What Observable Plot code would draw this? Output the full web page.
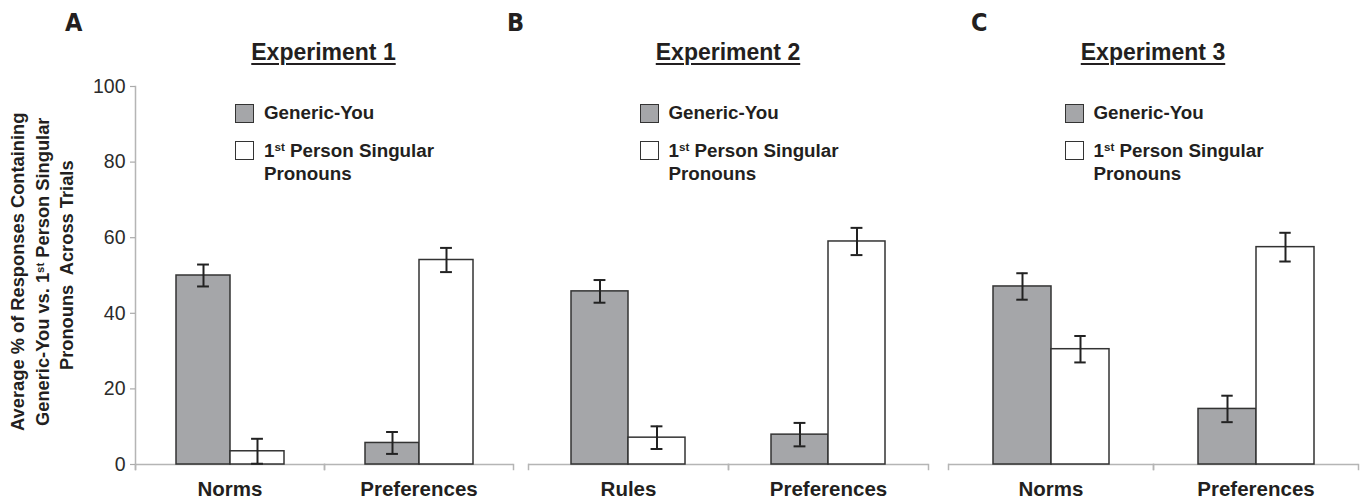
<!DOCTYPE html>
<html>
<head>
<meta charset="utf-8">
<script src="https://cdn.jsdelivr.net/npm/d3@7"></script>
<script src="https://cdn.jsdelivr.net/npm/@observablehq/plot@0.6"></script>
<style>
  body { margin: 0; background: #fff; }
  #chart { position: relative; width: 1364px; height: 500px; overflow: hidden;
           font-family: "Liberation Sans", Arial, Helvetica, sans-serif; color: #231f20; background: #fff; }
  .abs { position: absolute; white-space: nowrap; }
  .letter { font-family: "Liberation Sans Narrow", "DejaVu Sans Condensed", "Liberation Sans", sans-serif;
            font-weight: bold; font-size: 25px; line-height: 25px; }
  .title { font-weight: bold; font-size: 23px; line-height: 23px; text-align: center; width: 300px;
           text-decoration: underline; text-decoration-thickness: 2px; text-underline-offset: 3px; }
  .legtext { font-weight: bold; font-size: 18.8px; line-height: 23.3px; }
  .swatch { width: 17px; height: 17px; border: 1.5px solid #333; box-sizing: content-box; }
  sup { font-size: 0.62em; line-height: 0; vertical-align: 0.5em; }
  .ylab { font-weight: bold; font-size: 18.3px; line-height: 24.5px; text-align: center;
          width: 420px; height: 73.5px; transform: rotate(-90deg); transform-origin: 50% 50%; }
</style>
</head>
<body>
<div id="chart"></div>
<script>
// ---------- data ----------
const experiments = ["Experiment 1", "Experiment 2", "Experiment 3"];
const panelLetters = ["A", "B", "C"];
const categories = [["Norms", "Preferences"], ["Rules", "Preferences"], ["Norms", "Preferences"]];
const series = ["Generic-You", "1st Person Singular Pronouns"];
const genericYou = [[50.0, 5.7], [45.8, 7.9], [47.1, 14.7]];
const genericErr = [[2.9, 2.9], [3.0, 3.1], [3.5, 3.5]];
const firstPerson = [[3.5, 54.1], [7.1, 59.0], [30.5, 57.5]];
const firstErr = [[3.3, 3.2], [3.0, 3.6], [3.5, 3.8]];
const yTicks = [0, 20, 40, 60, 80, 100];
const legendLines = [["Generic-You"], ["1<sup>st</sup> Person Singular", "Pronouns"]];
const yLabelLines = ["Average % of Responses Containing", "Generic-You vs. 1<sup>st</sup> Person Singular", "Pronouns&nbsp; Across Trials"];

// ---------- layout ----------
const fillColors = ["#a5a6a9", "#ffffff"];
const layout = [
  {left: 0, width: 520, ml: 134, mr: 7, letterX: 65, yAxis: true},
  {left: 520, width: 415, ml: 8, mr: 7, letterX: 507, yAxis: false},
  {left: 935, width: 429, ml: 13, mr: 6, letterX: 971, yAxis: false}
];
const H = 500, MT = 86, MB = 36;
const chart = document.getElementById("chart");
const font = '"Liberation Sans", Arial, Helvetica, sans-serif';

function addDiv(cls, html, styles) {
  const d = document.createElement("div");
  d.className = "abs " + cls;
  d.innerHTML = html;
  Object.assign(d.style, styles);
  chart.appendChild(d);
  return d;
}

experiments.forEach((exp, i) => {
  const L = layout[i];
  const rows = categories[i].flatMap((c, j) => [
    {cat: c, series: series[0], value: genericYou[i][j], err: genericErr[i][j]},
    {cat: c, series: series[1], value: firstPerson[i][j], err: firstErr[i][j]}
  ]);
  const facetW = (L.width - L.ml - L.mr) / 2;
  const step = facetW / (2 + 2 * 0.75);
  const capInset = (step - 12) / 2;

  const marks = [
    Plot.ruleY([0], {stroke: "#b5b5b5", strokeWidth: 1.5}),
    Plot.frame({anchor: "left", insetTop: H - MT - MB, insetBottom: -5, stroke: "#b5b5b5", strokeWidth: 1.5}),
    Plot.frame({anchor: "right", insetTop: H - MT - MB, insetBottom: -5, stroke: "#b5b5b5", strokeWidth: 1.5}),
    Plot.barY(rows, {fx: "cat", x: "series", y: "value", fill: "series", stroke: "#333", strokeWidth: 1.5}),
    Plot.ruleX(rows, {fx: "cat", x: "series", y1: d => d.value - d.err, y2: d => d.value + d.err, stroke: "#222", strokeWidth: 2}),
    Plot.tickY(rows, {fx: "cat", x: "series", y: d => d.value - d.err, insetLeft: capInset, insetRight: capInset, stroke: "#222", strokeWidth: 2}),
    Plot.tickY(rows, {fx: "cat", x: "series", y: d => d.value + d.err, insetLeft: capInset, insetRight: capInset, stroke: "#222", strokeWidth: 2}),
    Plot.axisFx({anchor: "bottom", tickSize: 0, tickPadding: 17.4, fontSize: 20.5, fontWeight: "bold", fill: "#231f20", label: null})
  ];
  if (L.yAxis) {
    marks.push(Plot.frame({anchor: "left", facetAnchor: "left", insetBottom: -5, stroke: "#b5b5b5", strokeWidth: 1.5}));
    marks.push(Plot.axisY({ticks: yTicks, tickSize: 5, tickPadding: 5, fontSize: 19.5, stroke: "#aaa", strokeWidth: 1.2, fill: "#2b2b2b", label: null}));
  }

  const svg = Plot.plot({
    width: L.width, height: H,
    marginTop: MT, marginBottom: MB, marginLeft: L.ml, marginRight: L.mr,
    style: {fontFamily: font, background: "transparent", overflow: "visible"},
    fx: {domain: categories[i], padding: 0, label: null},
    x: {domain: series, paddingInner: 0, paddingOuter: 0.75, axis: null},
    y: {domain: [0, 100], axis: null},
    color: {type: "ordinal", domain: series, range: fillColors},
    marks
  });
  svg.style.position = "absolute";
  svg.style.left = L.left + "px";
  svg.style.top = "0px";
  chart.appendChild(svg);

  const center = L.left + L.ml + facetW;
  // panel letter
  addDiv("letter", panelLetters[i], {left: L.letterX + "px", top: (31.5 - 0.8465 * 25) + "px"});
  // title
  addDiv("title", exp, {left: (center - 150) + "px", top: (60 - 0.8465 * 23) + "px"});
  // legend
  const sx = center - 88.5;
  [104, 141].forEach((top, k) => {
    addDiv("swatch", "", {left: sx + "px", top: top + "px", background: fillColors[k]});
  });
  addDiv("legtext", legendLines[0].join("<br>"), {left: (sx + 29) + "px", top: (119 - 18.2) + "px"});
  addDiv("legtext", legendLines[1].join("<br>"), {left: (sx + 29) + "px", top: (156.7 - 18.2) + "px"});
});

// y-axis label (rotated, three lines)
addDiv("ylab", yLabelLines.map((t, k) => `<div style="${k === 2 ? 'padding-left:13px' : ''}">${t}</div>`).join(""),
  {left: (43.25 - 210) + "px", top: (272 - 36.75) + "px"});
</script>
</body>
</html>
